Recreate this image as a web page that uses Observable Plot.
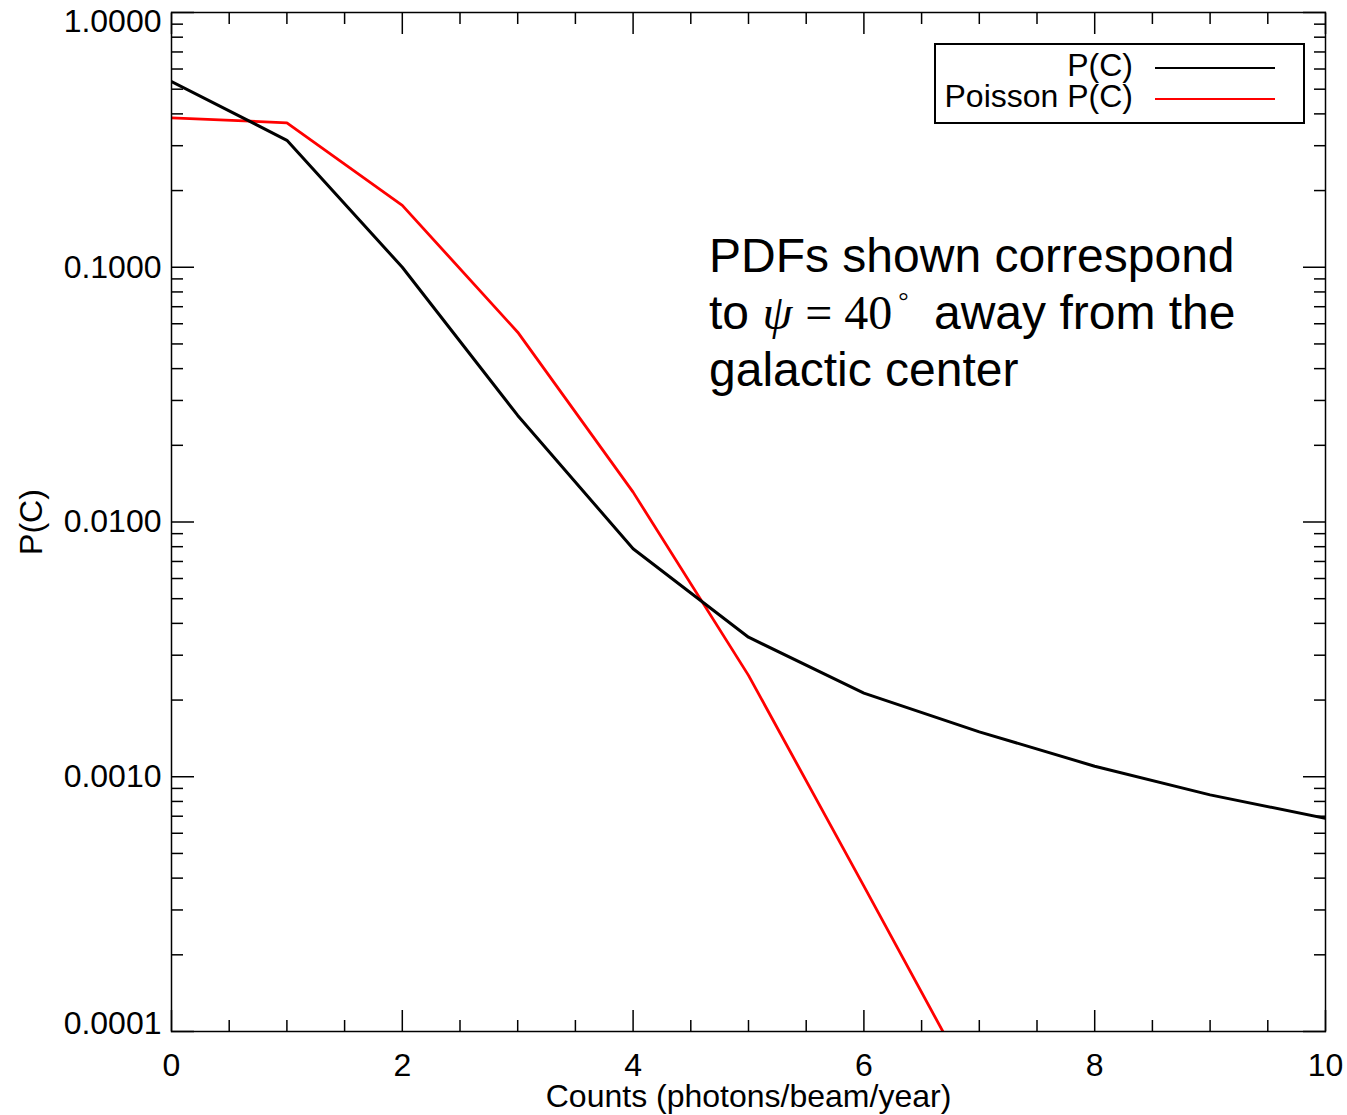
<!DOCTYPE html>
<html>
<head>
<meta charset="utf-8">
<script src="https://cdn.jsdelivr.net/npm/d3@7"></script>
<script src="https://cdn.jsdelivr.net/npm/@observablehq/plot@0.6"></script>
<style>
  html, body { margin: 0; padding: 0; background: #fff; }
  #wrap { position: relative; width: 1347px; height: 1115px; font-family: "Liberation Sans", Arial, Helvetica, sans-serif; color: #000; }
  #legend { position: absolute; left: 934px; top: 43px; width: 367px; height: 77px; border: 2px solid #000; box-sizing: content-box; }
  .lg-row { position: absolute; left: 0; width: 100%; height: 30px; }
  .lg-text { position: absolute; right: 170px; top: 0; font-size: 32px; line-height: 30px; white-space: nowrap; }
  .lg-line { position: absolute; left: 219px; width: 120px; height: 0; border-top: 2.5px solid #000; }
  #note { position: absolute; left: 709px; top: 227px; font-size: 48px; line-height: 57px; white-space: nowrap; }
  .serif { font-family: "Liberation Serif", "Times New Roman", Times, serif; display: inline-block; }
</style>
</head>
<body>
<div id="wrap">
  <div id="chart"></div>
  <div id="legend"></div>
  <div id="note"></div>
</div>
<script>
// ---- data ----
const counts = [0, 1, 2, 3, 4, 5, 6, 7, 8, 9, 10];
const pc = [0.536, 0.315, 0.100, 0.0262, 0.00785, 0.00353, 0.00213, 0.00150, 0.00110, 0.000849, 0.000687];
const poissonCounts = [0, 1, 2, 3, 4, 5, 6, 7];
const poissonPc = [0.386, 0.369, 0.175, 0.0556, 0.0131, 0.00250, 0.000372, 0.0000546];

const seriesNames = ["P(C)", "Poisson P(C)"];
const seriesColors = ["#000000", "#ff0000"];

const xMajorTicks = [0, 2, 4, 6, 8, 10];
const xMinorTicks = [0.5, 1, 1.5, 2.5, 3, 3.5, 4.5, 5, 5.5, 6.5, 7, 7.5, 8.5, 9, 9.5];
const yMajorTicks = [1, 0.1, 0.01, 0.001, 0.0001];
const yMinorTicks = [
  0.2, 0.3, 0.4, 0.5, 0.6, 0.7, 0.8, 0.9,
  0.02, 0.03, 0.04, 0.05, 0.06, 0.07, 0.08, 0.09,
  0.002, 0.003, 0.004, 0.005, 0.006, 0.007, 0.008, 0.009,
  0.0002, 0.0003, 0.0004, 0.0005, 0.0006, 0.0007, 0.0008, 0.0009
];
const yMiddleLabels = [0.1, 0.01, 0.001];
const yTopLabel = [1];
const yBottomLabel = [0.0001];
const xTitle = "Counts (photons/beam/year)";
const yTitle = "P(C)";

// ---- tables ----
const pcData = counts.map((c, i) => ({c, p: pc[i]}));
const poissonData = poissonCounts.map((c, i) => ({c, p: poissonPc[i]}));
const fmt = d3.format(".4f");
const xfmt = d3.format("d");
const blank = () => "";

const font = "'Liberation Sans', Arial, Helvetica, sans-serif";

const chart = Plot.plot({
  width: 1347,
  height: 1115,
  marginLeft: 171,
  marginRight: 22,
  marginTop: 12,
  marginBottom: 84,
  style: {fontFamily: font, fontSize: "32px", background: "white", color: "black", overflow: "visible"},
  x: {domain: [0, 10]},
  y: {type: "log", domain: [0.0001, 1]},
  marks: [
    Plot.line(poissonData, {x: "c", y: "p", stroke: seriesColors[1], strokeWidth: 2.8, clip: true}),
    Plot.line(pcData, {x: "c", y: "p", stroke: seriesColors[0], strokeWidth: 3, clip: true}),
    // inward ticks
    Plot.axisX(xMajorTicks, {anchor: "bottom", tickSize: -21, tickFormat: blank, label: null, strokeWidth: 1.5}),
    Plot.axisX(xMinorTicks, {anchor: "bottom", tickSize: -11, tickFormat: blank, label: null, strokeWidth: 1.5}),
    Plot.axisX(xMajorTicks, {anchor: "top", tickSize: -21, tickFormat: blank, label: null, strokeWidth: 1.5}),
    Plot.axisX(xMinorTicks, {anchor: "top", tickSize: -11, tickFormat: blank, label: null, strokeWidth: 1.5}),
    Plot.axisY(yMajorTicks, {anchor: "left", tickSize: -23, tickFormat: blank, label: null, strokeWidth: 1.5}),
    Plot.axisY(yMinorTicks, {anchor: "left", tickSize: -12, tickFormat: blank, label: null, strokeWidth: 1.5}),
    Plot.axisY(yMajorTicks, {anchor: "right", tickSize: -23, tickFormat: blank, label: null, strokeWidth: 1.5}),
    Plot.axisY(yMinorTicks, {anchor: "right", tickSize: -12, tickFormat: blank, label: null, strokeWidth: 1.5}),
    // labels
    Plot.axisX(xMajorTicks, {anchor: "bottom", tickSize: 0, tickPadding: 22, tickFormat: xfmt, label: null, fontSize: 32}),
    Plot.axisY(yMiddleLabels, {anchor: "left", tickSize: 0, tickPadding: 10, tickFormat: fmt, label: null, fontSize: 32}),
    Plot.text(yTopLabel, {y: d => d, frameAnchor: "left", dx: -10, dy: 9, textAnchor: "end", lineAnchor: "middle", text: d => fmt(d), fontSize: 32}),
    Plot.text(yBottomLabel, {y: d => d, frameAnchor: "left", dx: -10, dy: -8, textAnchor: "end", lineAnchor: "middle", text: d => fmt(d), fontSize: 32}),
    Plot.text([xTitle], {text: d => d, frameAnchor: "bottom", dy: 65, textAnchor: "middle", lineAnchor: "middle", fontSize: 32}),
    Plot.text([yTitle], {text: d => d, frameAnchor: "left", dx: -140, rotate: -90, textAnchor: "middle", lineAnchor: "middle", fontSize: 32}),
    Plot.frame({stroke: "black", strokeWidth: 1.5})
  ]
});
document.getElementById("chart").appendChild(chart);

// legend
const legend = document.getElementById("legend");
seriesNames.forEach((name, i) => {
  const row = document.createElement("div");
  row.className = "lg-row";
  row.style.top = (i === 0 ? 4.9 : 36.2) + "px";
  const t = document.createElement("span");
  t.className = "lg-text";
  t.textContent = name;
  const l = document.createElement("div");
  l.className = "lg-line";
  l.style.top = "16.7px";
  l.style.borderTopColor = seriesColors[i];
  row.appendChild(t);
  row.appendChild(l);
  legend.appendChild(row);
});

// annotation
document.getElementById("note").innerHTML =
  'PDFs shown correspond<br>to <span class="serif" style="font-style:italic">ψ</span>' +
  '<span class="serif" style="margin-left:13px">=</span>' +
  '<span class="serif" style="margin-left:12px">40</span>' +
  '<span class="serif" style="font-size:26px;vertical-align:20px;line-height:0;margin-left:6px">°</span>' +
  '<span style="margin-left:12px"> away from the</span><br>galactic center';
</script>
</body>
</html>
